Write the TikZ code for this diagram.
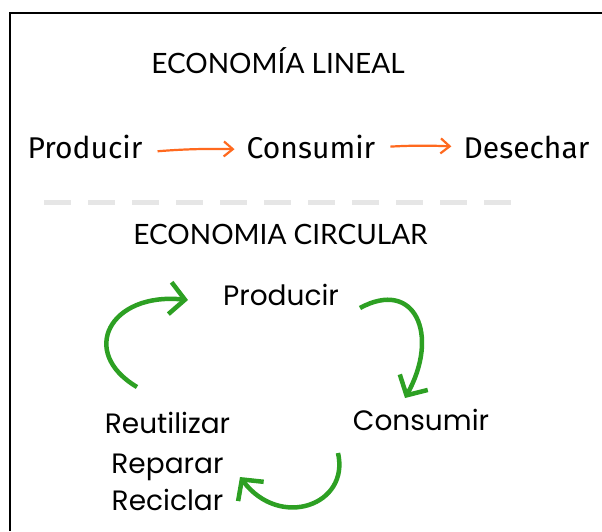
\documentclass[tikz,border=0pt]{standalone}
\usepackage{fontspec}
\setmainfont{Lato}
\newfontfamily\comicfont{Fira Sans}
\newfontfamily\roundfont{Poppins}
\usetikzlibrary{arrows.meta}
\definecolor{gArrow}{RGB}{45,160,35}
\definecolor{oArrow}{RGB}{255,105,30}
\definecolor{dashGray}{RGB}{230,230,230}
\begin{document}
\begin{tikzpicture}[x=1pt,y=-1pt,
  titletext/.style={anchor=base,inner sep=0pt,font=\fontsize{28}{32}\selectfont},
  lintext/.style={anchor=base,inner sep=0pt,font=\comicfont\fontsize{30}{34}\selectfont},
  circtext/.style={anchor=base,inner sep=0pt,font=\roundfont\fontsize{28}{32}\selectfont},
  oarrow/.style={draw=oArrow,line width=2.2pt,-{Straight Barb[length=9pt,width=15pt]},shorten <=15pt,shorten >=12pt},
  garrow/.style={draw=gArrow,line width=4.5pt,-{Straight Barb[length=15pt,width=32pt]}}]
\useasboundingbox (0,0) rectangle (602,531);
\fill[white] (0,0) rectangle (602,531);
\draw[line width=2pt] (9.5,531) -- (9.5,12.5) -- (602,12.5);
% linear economy
\node[titletext] (t1) at (278,73) {ECONOMÍA LINEAL};
\node[lintext] (lp) at (85,158) {Producir};
\node[lintext] (lc) at (311,158) {Consumir};
\node[lintext] (ld) at (526.5,158) {Desechar};
\draw[oarrow] ([yshift=-6pt]lp.east) to[bend left=3] ([yshift=-3pt]lc.west);
\draw[oarrow] ([yshift=-1pt]lc.east) to[bend left=3] ([yshift=0pt]ld.west);
% separator
\draw[dashGray,line width=5pt,dash pattern=on 27pt off 17pt] (44,202) -- (513,202);
% circular economy
\node[titletext] (t2) at (280.5,244) {ECONOMIA CIRCULAR};
\node[circtext] (cp) at (281,305) {Producir};
\node[circtext] (cc) at (421,430) {Consumir};
\node[circtext] (r1) at (167.5,433) {Reutilizar};
\node[circtext] (r2) at (167.5,473) {Reparar};
\node[circtext] (r3) at (167.5,510) {Reciclar};
\coordinate (g1s) at (137,387);
\coordinate (g1e) at (188,300);
\coordinate (g2s) at (360,308);
\coordinate (g2e) at (405,398);
\coordinate (g3s) at (338,453);
\coordinate (g3e) at (240,477);
\draw[garrow] (g1s) .. controls (78,352) and (110,292) .. (g1e);
\draw[garrow] (g2s) .. controls (415,278) and (440,335) .. (g2e);
\draw[garrow] (g3s) .. controls (350,505) and (280,530) .. (g3e);
\end{tikzpicture}
\end{document}
